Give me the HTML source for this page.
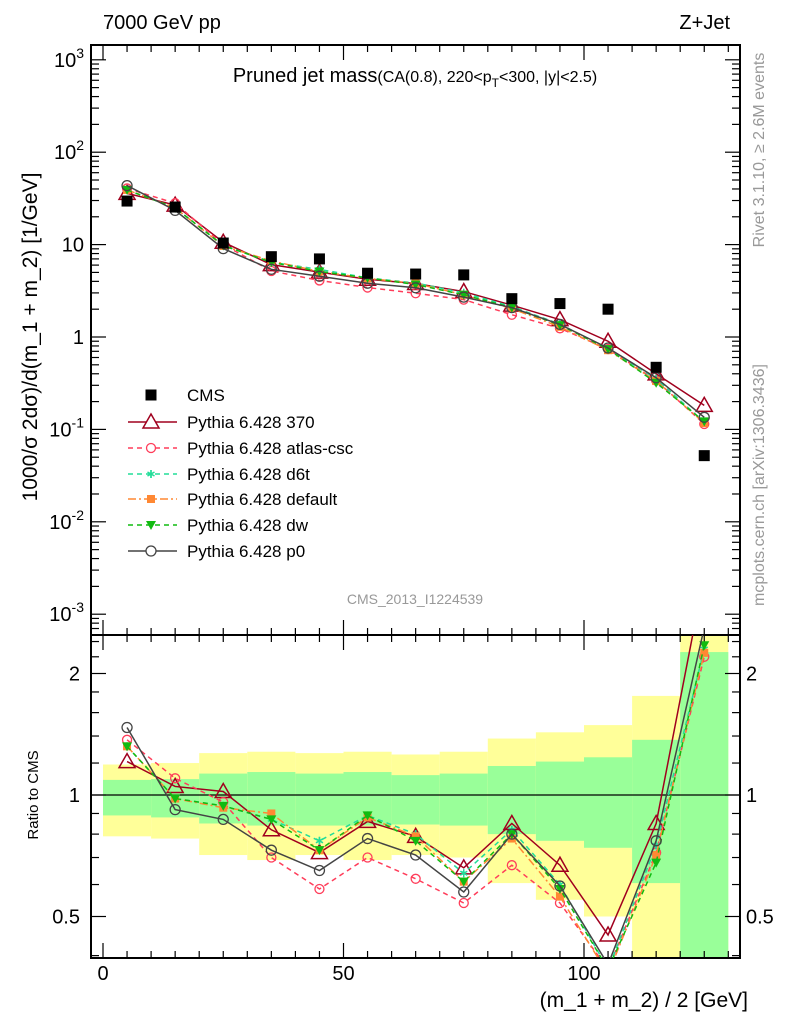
<!DOCTYPE html>
<html><head><meta charset="utf-8"><style>
html,body{margin:0;padding:0;background:#fff}
svg{display:block;font-family:"Liberation Sans",sans-serif}
</style></head><body>
<svg id="chart" width="786" height="1024" viewBox="0 0 786 1024" xmlns="http://www.w3.org/2000/svg">
<g id="bands"></g>
<g id="grid"></g>
<g id="series"></g>
<text x="103" y="29" font-size="20">7000 GeV pp</text>
<text x="730" y="29" font-size="20" text-anchor="end">Z+Jet</text>
<text x="415" y="82" font-size="20" text-anchor="middle">Pruned jet mass<tspan font-size="16">(CA(0.8), 220&lt;p</tspan><tspan font-size="12" dy="5">T</tspan><tspan font-size="16" dy="-5">&lt;300, |y|&lt;2.5)</tspan></text>
<text x="415" y="604" font-size="14" fill="#999" text-anchor="middle">CMS_2013_I1224539</text>
<text transform="translate(764,150) rotate(-90)" font-size="16" fill="#999" text-anchor="middle">Rivet 3.1.10, ≥ 2.6M events</text>
<text transform="translate(764,485) rotate(-90)" font-size="16" fill="#999" text-anchor="middle">mcplots.cern.ch [arXiv:1306.3436]</text>
<text transform="translate(37,337) rotate(-90)" font-size="21" text-anchor="middle">1000/σ 2dσ)/d(m_1 + m_2) [1/GeV]</text>
<text transform="translate(38,795) rotate(-90)" font-size="15" text-anchor="middle">Ratio to CMS</text>
<text x="748" y="1007" font-size="21" text-anchor="end">(m_1 + m_2) / 2 [GeV]</text>
<g id="legend"></g>
</svg>
<script>
const xCenters=[5,15,25,35,45,55,65,75,85,95,105,115,125];
const cmsValues=[29.6,25.5,10.4,7.4,7.0,4.9,4.8,4.7,2.6,2.3,2.0,0.47,0.052];
const ratio370=[1.21,1.05,1.02,0.82,0.72,0.86,0.79,0.66,0.85,0.67,0.45,0.85,3.5];
const ratioAtlas=[1.37,1.10,0.96,0.70,0.585,0.70,0.62,0.54,0.67,0.54,0.37,0.72,2.2];
const ratioD6t=[1.32,0.98,0.94,0.87,0.77,0.89,0.80,0.64,0.82,0.60,0.37,0.75,2.3];
const ratioDefault=[1.32,0.98,0.93,0.90,0.73,0.88,0.79,0.61,0.78,0.56,0.36,0.71,2.25];
const ratioDw=[1.32,0.98,0.94,0.87,0.73,0.89,0.77,0.61,0.80,0.585,0.37,0.68,2.35];
const ratioP0=[1.47,0.92,0.87,0.73,0.65,0.78,0.71,0.575,0.80,0.595,0.38,0.77,2.6];
const binEdges=[0,10,20,30,40,50,60,70,80,90,100,110,120,130];
const yellowHi=[1.19,1.20,1.27,1.28,1.27,1.28,1.26,1.28,1.38,1.43,1.49,1.76,3];
const yellowLo=[0.79,0.78,0.71,0.69,0.71,0.69,0.71,0.70,0.605,0.55,0.50,0.3,0.3];
const greenHi=[1.09,1.095,1.13,1.14,1.13,1.14,1.12,1.13,1.18,1.21,1.24,1.37,2.26];
const greenLo=[0.89,0.88,0.85,0.84,0.84,0.84,0.845,0.84,0.80,0.77,0.74,0.605,0.3];
const yTickLabels=["10","10","10","10","1","10","10"];

const NS="http://www.w3.org/2000/svg";
const L=91,R=740,T=45,MB=635,RB=958;
const X=v=>103+(v)*4.81;
const Y=v=>337-92.4*Math.log10(v);
const YR=v=>795-121.5*Math.log2(v);
function mk(tag,attrs,parent){const e=document.createElementNS(NS,tag);for(const k in attrs)e.setAttribute(k,attrs[k]);parent.appendChild(e);return e;}
const bands=document.getElementById('bands'),grid=document.getElementById('grid'),series=document.getElementById('series'),leg=document.getElementById('legend');
const svg=document.getElementById('chart');
const defs=mk('defs',{},svg);
const c1=mk('clipPath',{id:'cm'},defs);mk('rect',{x:L,y:T,width:R-L,height:MB-T},c1);
const c2=mk('clipPath',{id:'cr'},defs);mk('rect',{x:L,y:MB,width:R-L,height:RB-MB},c2);
bands.setAttribute('clip-path','url(#cr)');
for(let i=0;i<xCenters.length;i++){
 const x0=X(binEdges[i]),x1=X(binEdges[i+1]);
 const yb=mk('rect',{x:x0,y:YR(yellowHi[i]),width:x1-x0,height:YR(yellowLo[i])-YR(yellowHi[i]),fill:'#ffff99'},bands);
 
 
 const gb=mk('rect',{x:x0,y:YR(greenHi[i]),width:x1-x0,height:YR(greenLo[i])-YR(greenHi[i]),fill:'#99ff99'},bands);
 
 
}
mk('rect',{x:L,y:T,width:R-L,height:MB-T,fill:'none',stroke:'#000','stroke-width':2},grid);
mk('rect',{x:L,y:MB,width:R-L,height:RB-MB,fill:'none',stroke:'#000','stroke-width':2},grid);
mk('line',{x1:L,x2:R,y1:YR(1),y2:YR(1),stroke:'#000','stroke-width':1.3},grid);
for(let v=0;v<=130;v+=5){const big=v%50===0;const len=big?15:7;const x=X(v);
 [[T,1],[MB,-1],[MB,1],[RB,-1]].forEach(([y,d])=>mk('line',{x1:x,x2:x,y1:y,y2:y+d*len,stroke:'#000','stroke-width':1.2},grid));
 if(big){const t=mk('text',{x:x,y:980,'font-size':20,'text-anchor':'middle'},grid);t.textContent=v;}}
for(let e=-4;e<=3;e++){for(let m=1;m<10;m++){const v=m*Math.pow(10,e);const y=Y(v);if(y<T||y>MB)continue;const len=m===1?15:8;
 mk('line',{x1:L,x2:L+len,y1:y,y2:y,stroke:'#000','stroke-width':1.2},grid);mk('line',{x1:R,x2:R-len,y1:y,y2:y,stroke:'#000','stroke-width':1.2},grid);}}
for(let e=-3;e<=3;e++){const t=mk('text',{x:84,y:Y(Math.pow(10,e))+7,'font-size':20,'text-anchor':'end'},grid);
 
 const lab=yTickLabels[e+3];
 if(e===0)t.textContent='1';else if(e===1)t.textContent='10';else{const s=document.createElementNS(NS,'tspan');s.textContent=lab;t.appendChild(s);const sup=document.createElementNS(NS,'tspan');sup.setAttribute('dy','-9');sup.setAttribute('font-size','14');sup.textContent=String(e);t.appendChild(sup);}}
const rt=[0.4,0.5,0.6,0.7,0.8,0.9,1,1.2,1.4,1.6,1.8,2,2.2,2.4];
rt.forEach(v=>{const y=YR(v);if(y<MB||y>RB)return;const big=(v===0.5||v===1||v===2);const len=big?15:8;
 mk('line',{x1:L,x2:L+len,y1:y,y2:y,stroke:'#000','stroke-width':1.2},grid);mk('line',{x1:R,x2:R-len,y1:y,y2:y,stroke:'#000','stroke-width':1.2},grid);
 if(big){const lbl=v===1?'1':String(v);
  const a=mk('text',{x:80,y:y+7,'font-size':20,'text-anchor':'end'},grid);a.textContent=lbl;
  const b=mk('text',{x:746,y:y+7,'font-size':20},grid);b.textContent=lbl;}});
function marker(type,x,y,col,parent){
 if(type==='sq')return mk('rect',{x:x-5.5,y:y-5.5,width:11,height:11,fill:'#000'},parent);
 if(type==='tri')return mk('polygon',{points:`${x},${y-8} ${x-8},${y+6} ${x+8},${y+6}`,fill:'none',stroke:col,'stroke-width':1.5},parent);
 if(type==='circ')return mk('circle',{cx:x,cy:y,r:4.5,fill:'none',stroke:col,'stroke-width':1.3},parent);
 if(type==='star'){const g=mk('g',{stroke:col,'stroke-width':1.5},parent);[[0,4],[3.5,2],[3.5,-2]].forEach(([a,b])=>mk('line',{x1:x-a,y1:y-b,x2:x+a,y2:y+b},g));mk('line',{x1:x,y1:y-4,x2:x,y2:y+4},g);return g;}
 if(type==='fsq')return mk('rect',{x:x-4,y:y-4,width:8,height:8,fill:col},parent);
 if(type==='dtri')return mk('polygon',{points:`${x-5},${y-4} ${x+5},${y-4} ${x},${y+5}`,fill:col},parent);
 if(type==='bcirc')return mk('circle',{cx:x,cy:y,r:5,fill:'none',stroke:col,'stroke-width':1.3},parent);
}
const defsS=[
 {name:'Pythia 6.428 370',r:ratio370,col:'#a0001e',dash:'',m:'tri',id:'370'},
 {name:'Pythia 6.428 atlas-csc',r:ratioAtlas,col:'#ff3d5a',dash:'5,4',m:'circ',id:'atlas-csc'},
 {name:'Pythia 6.428 d6t',r:ratioD6t,col:'#22dd99',dash:'5,4',m:'star',id:'d6t'},
 {name:'Pythia 6.428 default',r:ratioDefault,col:'#ff8833',dash:'8,3,2,3',m:'fsq',id:'default'},
 {name:'Pythia 6.428 dw',r:ratioDw,col:'#11bb11',dash:'5,4',m:'dtri',id:'dw'},
 {name:'Pythia 6.428 p0',r:ratioP0,col:'#444444',dash:'',m:'bcirc',id:'p0'}];
const gm=mk('g',{'clip-path':'url(#cm)'},series);
const gr=mk('g',{'clip-path':'url(#cr)'},series);
defsS.forEach(s=>{
 const vals=s.r.map((r,i)=>r*cmsValues[i]);
 const pm=mk('polyline',{points:xCenters.map((x,i)=>X(x)+','+Y(vals[i])).join(' '),fill:'none',stroke:s.col,'stroke-width':1.5,'stroke-dasharray':s.dash},gm);
 
 
 const pr=mk('polyline',{points:xCenters.map((x,i)=>X(x)+','+YR(s.r[i])).join(' '),fill:'none',stroke:s.col,'stroke-width':1.5,'stroke-dasharray':s.dash},gr);
 
 
 xCenters.forEach((x,i)=>{const a=marker(s.m,X(x),Y(vals[i]),s.col,gm);
  const b=marker(s.m,X(x),YR(s.r[i]),s.col,gr);});
});
xCenters.forEach((x,i)=>{const a=marker('sq',X(x),Y(cmsValues[i]),'#000',gm);});
const ly=[395,422,448,474,499,525,551];
{const a=marker('sq',151,ly[0],'#000',leg);
 const t=mk('text',{x:187,y:ly[0]+6,'font-size':17},leg);t.textContent='CMS';}
defsS.forEach((s,k)=>{const y=ly[k+1];
 const l=mk('line',{x1:128,x2:177,y1:y,y2:y,stroke:s.col,'stroke-width':1.5,'stroke-dasharray':s.dash},leg);
 const m=marker(s.m,151,y,s.col,leg);
 if(s.m==='tri'||s.m==='circ'||s.m==='bcirc'){m.setAttribute('fill','#fff');}
 const t=mk('text',{x:187,y:y+6,'font-size':17},leg);t.textContent=s.name;});
</script>
</body></html>
